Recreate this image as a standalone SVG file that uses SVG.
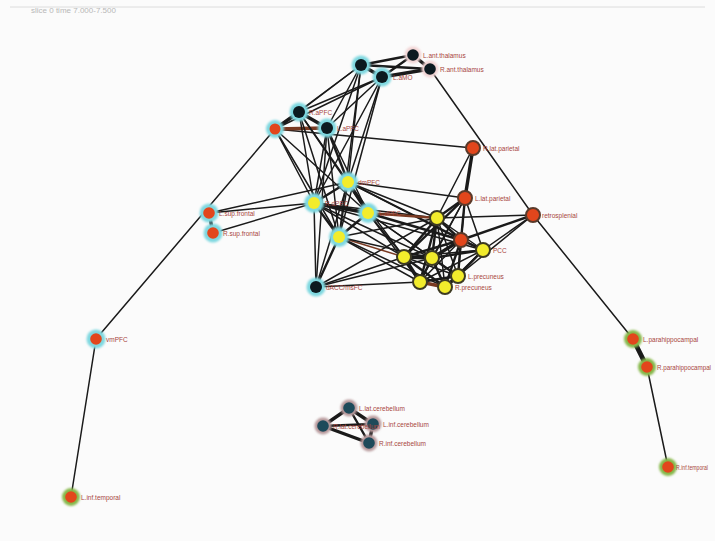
<svg xmlns="http://www.w3.org/2000/svg" width="715" height="541" viewBox="0 0 715 541">
<style>
.lbl{font-family:"Liberation Sans",Arial,sans-serif;font-size:6.5px;fill:#a8463e}
.ttl{font-family:"Liberation Sans",Arial,sans-serif;font-size:8px;fill:#b8b8b8}
.e line{stroke:#1a1a1a;stroke-width:1.5;stroke-linecap:round}
.e .w2{stroke-width:2.4}
.e .w3{stroke-width:3.4}
.e .w4{stroke-width:4.8}
.e .br{stroke:#7a3a22}
.hc{fill:#7fd8e0;filter:url(#glow)}
.hp{fill:#f2d4d4;filter:url(#glow)}
.hg{fill:#86b84a;filter:url(#glow)}
.hb{fill:#b89a9c;filter:url(#glow)}
.k{fill:#0c1a20}
.o{fill:#e2461c}
.y{fill:#f2ec2c}
.t{fill:#1e4a5a}
.yd{fill:#f2ec2c;stroke:#3d3a22;stroke-width:2}
.od{fill:#e2461c;stroke:#5a3a2a;stroke-width:2}
</style>
<defs>
<filter id="glow" x="-50%" y="-50%" width="200%" height="200%"><feGaussianBlur stdDeviation="1"/></filter>
</defs>
<rect width="715" height="541" fill="#fbfbfb"/>
<line x1="10" y1="7" x2="705" y2="7" stroke="#dcdcdc" stroke-width="1"/>
<text class="ttl" x="31" y="13">slice 0 time 7.000-7.500</text>
<g id="connectors" class="e">
<line x1="430" y1="69" x2="533" y2="215"/>
<line x1="533" y1="215" x2="633" y2="339"/>
<line x1="633" y1="339" x2="647" y2="367" class="w4"/>
<line x1="647" y1="367" x2="668" y2="467"/>
<line x1="275" y1="129" x2="96" y2="339"/>
<line x1="96" y1="339" x2="71" y2="497"/>
<line x1="275" y1="129" x2="473" y2="148"/>
<line x1="209" y1="213" x2="213" y2="233" class="w3"/>
<line x1="209" y1="213" x2="348" y2="182"/>
<line x1="209" y1="213" x2="314" y2="203"/>
<line x1="213" y1="233" x2="314" y2="203"/>
<line x1="348" y1="182" x2="465" y2="198"/>
<line x1="413" y1="55" x2="430" y2="69" class="w3"/>
<line x1="361" y1="65" x2="413" y2="55" class="w2"/>
<line x1="361" y1="65" x2="430" y2="69" class="w2"/>
<line x1="382" y1="77" x2="413" y2="55" class="w2"/>
<line x1="382" y1="77" x2="430" y2="69" class="w3"/>
<line x1="361" y1="65" x2="382" y2="77" class="w3"/>
<line x1="361" y1="65" x2="299" y2="112"/>
<line x1="361" y1="65" x2="275" y2="129"/>
<line x1="361" y1="65" x2="327" y2="128"/>
<line x1="361" y1="65" x2="348" y2="182"/>
<line x1="361" y1="65" x2="314" y2="203"/>
<line x1="361" y1="65" x2="339" y2="237"/>
<line x1="382" y1="77" x2="299" y2="112"/>
<line x1="382" y1="77" x2="275" y2="129"/>
<line x1="382" y1="77" x2="327" y2="128"/>
<line x1="382" y1="77" x2="314" y2="203"/>
<line x1="382" y1="77" x2="339" y2="237"/>
<line x1="382" y1="77" x2="348" y2="182"/>
<line x1="299" y1="112" x2="275" y2="129" class="w3"/>
<line x1="299" y1="112" x2="327" y2="128" class="w3"/>
<line x1="275" y1="129" x2="327" y2="128" class="w3 br"/>
<line x1="299" y1="112" x2="348" y2="182"/>
<line x1="299" y1="112" x2="314" y2="203"/>
<line x1="299" y1="112" x2="339" y2="237"/>
<line x1="299" y1="112" x2="368" y2="213"/>
<line x1="327" y1="128" x2="348" y2="182" class="w2"/>
<line x1="327" y1="128" x2="314" y2="203"/>
<line x1="327" y1="128" x2="368" y2="213"/>
<line x1="327" y1="128" x2="339" y2="237"/>
<line x1="327" y1="128" x2="316" y2="287"/>
<line x1="275" y1="129" x2="314" y2="203"/>
<line x1="275" y1="129" x2="339" y2="237"/>
<line x1="275" y1="129" x2="368" y2="213"/>
<line x1="348" y1="182" x2="314" y2="203" class="w2"/>
<line x1="348" y1="182" x2="368" y2="213" class="w3"/>
<line x1="348" y1="182" x2="339" y2="237"/>
<line x1="314" y1="203" x2="339" y2="237" class="w2"/>
<line x1="314" y1="203" x2="368" y2="213" class="w3"/>
<line x1="368" y1="213" x2="339" y2="237" class="w2"/>
<line x1="314" y1="203" x2="316" y2="287"/>
<line x1="339" y1="237" x2="316" y2="287" class="w2"/>
<line x1="348" y1="182" x2="316" y2="287"/>
<line x1="316" y1="287" x2="404" y2="257"/>
<line x1="316" y1="287" x2="420" y2="282"/>
<line x1="316" y1="287" x2="432" y2="258"/>
<line x1="316" y1="287" x2="437" y2="218"/>
<line x1="348" y1="182" x2="437" y2="218"/>
<line x1="348" y1="182" x2="404" y2="257"/>
<line x1="348" y1="182" x2="461" y2="240"/>
<line x1="348" y1="182" x2="483" y2="250"/>
<line x1="314" y1="203" x2="437" y2="218"/>
<line x1="314" y1="203" x2="404" y2="257"/>
<line x1="314" y1="203" x2="432" y2="258"/>
<line x1="314" y1="203" x2="483" y2="250"/>
<line x1="368" y1="213" x2="437" y2="218" class="w2 br"/>
<line x1="368" y1="213" x2="404" y2="257"/>
<line x1="368" y1="213" x2="432" y2="258"/>
<line x1="368" y1="213" x2="461" y2="240" class="w2"/>
<line x1="368" y1="213" x2="458" y2="276"/>
<line x1="368" y1="213" x2="420" y2="282"/>
<line x1="339" y1="237" x2="404" y2="257" class="br"/>
<line x1="339" y1="237" x2="432" y2="258"/>
<line x1="339" y1="237" x2="420" y2="282"/>
<line x1="339" y1="237" x2="437" y2="218"/>
<line x1="339" y1="237" x2="445" y2="287"/>
<line x1="473" y1="148" x2="465" y2="198" class="w3"/>
<line x1="473" y1="148" x2="437" y2="218"/>
<line x1="465" y1="198" x2="437" y2="218" class="w2"/>
<line x1="465" y1="198" x2="404" y2="257" class="w2"/>
<line x1="465" y1="198" x2="432" y2="258"/>
<line x1="465" y1="198" x2="461" y2="240" class="w2"/>
<line x1="465" y1="198" x2="483" y2="250"/>
<line x1="465" y1="198" x2="458" y2="276"/>
<line x1="465" y1="198" x2="420" y2="282"/>
<line x1="533" y1="215" x2="461" y2="240" class="w2"/>
<line x1="533" y1="215" x2="483" y2="250"/>
<line x1="533" y1="215" x2="458" y2="276"/>
<line x1="533" y1="215" x2="437" y2="218"/>
<line x1="437" y1="218" x2="404" y2="257" class="w2"/>
<line x1="437" y1="218" x2="432" y2="258" class="w2"/>
<line x1="437" y1="218" x2="461" y2="240" class="w2"/>
<line x1="437" y1="218" x2="483" y2="250"/>
<line x1="437" y1="218" x2="458" y2="276"/>
<line x1="437" y1="218" x2="445" y2="287"/>
<line x1="437" y1="218" x2="420" y2="282" class="w2"/>
<line x1="404" y1="257" x2="432" y2="258" class="w3"/>
<line x1="404" y1="257" x2="461" y2="240" class="w2"/>
<line x1="404" y1="257" x2="483" y2="250"/>
<line x1="404" y1="257" x2="458" y2="276"/>
<line x1="404" y1="257" x2="445" y2="287" class="w2"/>
<line x1="404" y1="257" x2="420" y2="282" class="w3"/>
<line x1="432" y1="258" x2="461" y2="240" class="w3"/>
<line x1="432" y1="258" x2="483" y2="250" class="w2"/>
<line x1="432" y1="258" x2="458" y2="276" class="w2"/>
<line x1="432" y1="258" x2="445" y2="287" class="w2"/>
<line x1="432" y1="258" x2="420" y2="282" class="w2"/>
<line x1="461" y1="240" x2="483" y2="250" class="w2"/>
<line x1="461" y1="240" x2="458" y2="276" class="w2"/>
<line x1="461" y1="240" x2="445" y2="287" class="w2"/>
<line x1="461" y1="240" x2="420" y2="282"/>
<line x1="483" y1="250" x2="458" y2="276" class="w2"/>
<line x1="483" y1="250" x2="445" y2="287"/>
<line x1="483" y1="250" x2="420" y2="282"/>
<line x1="458" y1="276" x2="445" y2="287" class="w3"/>
<line x1="458" y1="276" x2="420" y2="282" class="w2"/>
<line x1="445" y1="287" x2="420" y2="282" class="w3 br"/>
<line x1="349" y1="408" x2="373" y2="424" class="w3"/>
<line x1="349" y1="408" x2="323" y2="426" class="w3"/>
<line x1="323" y1="426" x2="369" y2="443" class="w3"/>
<line x1="373" y1="424" x2="369" y2="443" class="w3"/>
<line x1="323" y1="426" x2="373" y2="424" class="w2"/>
<line x1="349" y1="408" x2="369" y2="443" class="w2"/>
</g>
<g id="L.ant.thalamus"><circle class="hp" cx="413" cy="55" r="8.5"/><circle class="k" cx="413" cy="55" r="5.8"/><text class="lbl" x="423" y="58">L.ant.thalamus</text></g>
<g id="R.ant.thalamus"><circle class="hp" cx="430" cy="69" r="8.5"/><circle class="k" cx="430" cy="69" r="5.8"/><text class="lbl" x="440" y="72">R.ant.thalamus</text></g>
<g id="n-top1"><circle class="hc" cx="361" cy="65" r="9.5"/><circle class="k" cx="361" cy="65" r="6"/></g>
<g id="L.aMO"><circle class="hc" cx="382" cy="77" r="9.5"/><circle class="k" cx="382" cy="77" r="6"/><text class="lbl" x="393" y="80">L.aMO</text></g>
<g id="R.aPFC"><circle class="hc" cx="299" cy="112" r="9.5"/><circle class="k" cx="299" cy="112" r="6"/><text class="lbl" x="309" y="115">R.aPFC</text></g>
<g id="L.aPFC"><circle class="hc" cx="327" cy="128" r="9.5"/><circle class="k" cx="327" cy="128" r="6"/><text class="lbl" x="337" y="131">L.aPFC</text></g>
<g id="n-orange1"><circle class="hc" cx="275" cy="129" r="9"/><circle class="o" cx="275" cy="129" r="5.5"/></g>
<g id="R.lat.parietal"><circle class="od" cx="473" cy="148" r="7"/><text class="lbl" x="483" y="151">R.lat.parietal</text></g>
<g id="L.lat.parietal"><circle class="od" cx="465" cy="198" r="7"/><text class="lbl" x="475" y="201">L.lat.parietal</text></g>
<g id="retrosplenial"><circle class="od" cx="533" cy="215" r="7"/><text class="lbl" x="542" y="218">retrosplenial</text></g>
<g id="dmPFC"><circle class="hc" cx="348" cy="182" r="10"/><circle class="y" cx="348" cy="182" r="6"/><text class="lbl" x="358" y="185">dmPFC</text></g>
<g id="R.dPFC"><circle class="hc" cx="314" cy="203" r="10"/><circle class="y" cx="314" cy="203" r="6"/><text class="lbl" x="325" y="206">R.dPFC</text></g>
<g id="L.dPFC"><circle class="hc" cx="368" cy="213" r="10"/><circle class="y" cx="368" cy="213" r="6"/><text class="lbl" x="379" y="216">L.dPFC</text></g>
<g id="n-yellow4"><circle class="hc" cx="339" cy="237" r="10"/><circle class="y" cx="339" cy="237" r="6"/></g>
<g id="dACC-msFC"><circle class="hc" cx="316" cy="287" r="9.5"/><circle class="k" cx="316" cy="287" r="6"/><text class="lbl" x="326" y="290">dACC/msFC</text></g>
<g id="L.sup.frontal"><circle class="hc" cx="209" cy="213" r="9.5"/><circle class="o" cx="209" cy="213" r="5.8"/><text class="lbl" x="219" y="216">L.sup.frontal</text></g>
<g id="R.sup.frontal"><circle class="hc" cx="213" cy="233" r="9.5"/><circle class="o" cx="213" cy="233" r="5.8"/><text class="lbl" x="223" y="236">R.sup.frontal</text></g>
<g id="vmPFC"><circle class="hc" cx="96" cy="339" r="9.5"/><circle class="o" cx="96" cy="339" r="5.8"/><text class="lbl" x="106" y="342">vmPFC</text></g>
<g id="L.inf.temporal"><circle class="hg" cx="71" cy="497" r="9"/><circle class="o" cx="71" cy="497" r="5.8"/><text class="lbl" x="81" y="500">L.inf.temporal</text></g>
<g id="L.parahippocampal"><circle class="hg" cx="633" cy="339" r="9"/><circle class="o" cx="633" cy="339" r="5.8"/><text class="lbl" x="643" y="342">L.parahippocampal</text></g>
<g id="R.parahippocampal"><circle class="hg" cx="647" cy="367" r="9"/><circle class="o" cx="647" cy="367" r="5.8"/><text class="lbl" x="657" y="370" textLength="54" lengthAdjust="spacingAndGlyphs">R.parahippocampal</text></g>
<g id="R.inf.temporal"><circle class="hg" cx="668" cy="467" r="9"/><circle class="o" cx="668" cy="467" r="5.8"/><text class="lbl" x="676" y="470" textLength="32" lengthAdjust="spacingAndGlyphs">R.inf.temporal</text></g>
<g id="c1"><circle class="yd" cx="437" cy="218" r="7"/></g>
<g id="c2"><circle class="yd" cx="404" cy="257" r="7"/></g>
<g id="c3"><circle class="yd" cx="432" cy="258" r="7"/></g>
<g id="c4"><circle class="od" cx="461" cy="240" r="7"/></g>
<g id="PCC"><circle class="yd" cx="483" cy="250" r="7"/><text class="lbl" x="493" y="253">PCC</text></g>
<g id="L.precuneus"><circle class="yd" cx="458" cy="276" r="7"/><text class="lbl" x="468" y="279">L.precuneus</text></g>
<g id="R.precuneus"><circle class="yd" cx="445" cy="287" r="7"/><text class="lbl" x="455" y="290">R.precuneus</text></g>
<g id="c8"><circle class="yd" cx="420" cy="282" r="7"/></g>
<g id="L.lat.cerebellum"><circle class="hb" cx="349" cy="408" r="8.5"/><circle class="t" cx="349" cy="408" r="5.8"/><text class="lbl" x="359" y="411">L.lat.cerebellum</text></g>
<g id="L.inf.cerebellum"><circle class="hb" cx="373" cy="424" r="8.5"/><circle class="t" cx="373" cy="424" r="5.8"/><text class="lbl" x="383" y="427">L.inf.cerebellum</text></g>
<g id="R.lat.cerebellum"><circle class="hb" cx="323" cy="426" r="8.5"/><circle class="t" cx="323" cy="426" r="5.8"/><text class="lbl" x="333" y="429">R.lat.cerebellum</text></g>
<g id="R.inf.cerebellum"><circle class="hb" cx="369" cy="443" r="8.5"/><circle class="t" cx="369" cy="443" r="5.8"/><text class="lbl" x="379" y="446">R.inf.cerebellum</text></g>
</svg>
